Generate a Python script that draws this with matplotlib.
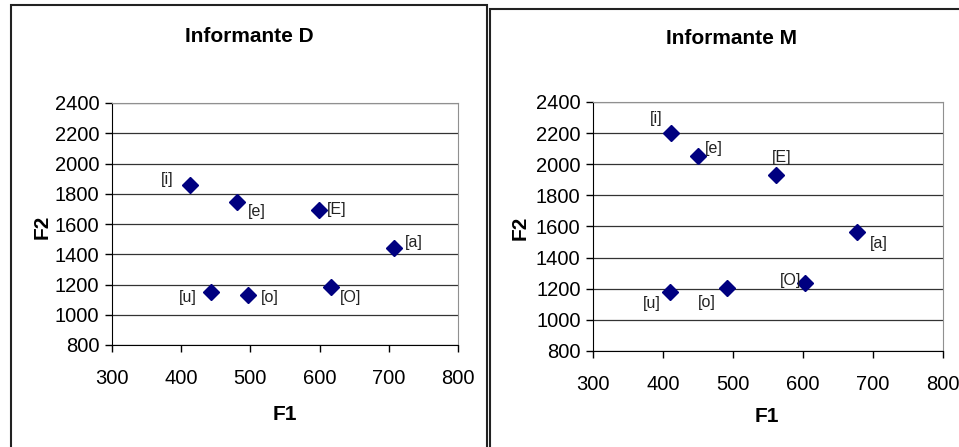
import matplotlib
matplotlib.use("Agg")
import matplotlib.pyplot as plt
from matplotlib.patches import Rectangle

# vowel formants per speaker (F1, F2)
vowels = ["[i]", "[e]", "[E]", "[a]", "[u]", "[o]", "[O]"]
d_f1 = [412, 480, 599, 708, 443, 496, 616]
d_f2 = [1860, 1745, 1693, 1441, 1148, 1128, 1181]
m_f1 = [411, 450, 562, 677, 410, 491, 603]
m_f2 = [2200, 2050, 1934, 1563, 1178, 1208, 1236]

x_ticks = [300, 400, 500, 600, 700, 800]
y_ticks = [800, 1000, 1200, 1400, 1600, 1800, 2000, 2200, 2400]

# label offsets in pixels (styling only)
d_offsets = [(-22, 5), (20, -9), (18, 0), (19, 6), (-23, -5), (22, -2), (20, -10)]
m_offsets = [(-15, 15), (16, 8), (5, 17), (22, -11), (-18, -11), (-20, -15), (-15, 3)]

plt.rcParams["font.family"] = ["Liberation Sans", "DejaVu Sans"]

fig = plt.figure(figsize=(9.59, 4.47), dpi=100)

# chart frames
fig.patches.append(Rectangle((11 / 959, -0.05), 476 / 959, 1.05 - 5 / 447,
                             transform=fig.transFigure, fill=False,
                             edgecolor="#222222", lw=1.5))
fig.patches.append(Rectangle((490 / 959, -0.05), 0.6, 1.05 - 9 / 447,
                             transform=fig.transFigure, fill=False,
                             edgecolor="#222222", lw=1.5))


def draw_panel(rect, f1, f2, offsets, title, title_pos, f2_pos, f1_pos):
    ax = fig.add_axes(rect)
    ax.set_xlim(300, 800)
    ax.set_ylim(800, 2400)
    ax.set_xticks(x_ticks)
    ax.set_yticks(y_ticks)
    ax.yaxis.grid(True, color="#333333", lw=0.9)
    ax.set_axisbelow(True)
    for s in ("top", "right"):
        ax.spines[s].set_color("#909090")
    for s in ("left", "bottom"):
        ax.spines[s].set_color("black")
    ax.tick_params(axis="both", direction="out", length=5, width=1,
                   labelsize=14.5)
    ax.tick_params(axis="x", pad=12)
    ax.tick_params(axis="y", pad=4)
    ax.plot(f1, f2, linestyle="none", marker="D", ms=8,
            color="#000080", clip_on=False)
    for lab, x, y, off in zip(vowels, f1, f2, offsets):
        ax.annotate(lab, (x, y), xytext=off, textcoords="offset pixels",
                    ha="center", va="center", fontsize=11.5, color="#222222")
    fig.text(title_pos[0], title_pos[1], title, ha="center", va="center",
             fontsize=15, fontweight="bold")
    fig.text(f2_pos[0], f2_pos[1], "F2", ha="center", va="center",
             rotation=90, fontsize=15, fontweight="bold")
    fig.text(f1_pos[0], f1_pos[1], "F1", ha="center", va="center",
             fontsize=15, fontweight="bold")
    return ax


draw_panel([112 / 959, 1 - 345 / 447, 346 / 959, 242 / 447],
           d_f1, d_f2, d_offsets, "Informante D",
           (249 / 959, 1 - 37 / 447), (42 / 959, 1 - 227 / 447),
           (285 / 959, 1 - 415 / 447))
draw_panel([593 / 959, 1 - 351 / 447, 350 / 959, 249 / 447],
           m_f1, m_f2, m_offsets, "Informante M",
           (732 / 959, 1 - 39 / 447), (520 / 959, 1 - 228 / 447),
           (767 / 959, 1 - 417 / 447))

fig.savefig("out.png", dpi=100)
